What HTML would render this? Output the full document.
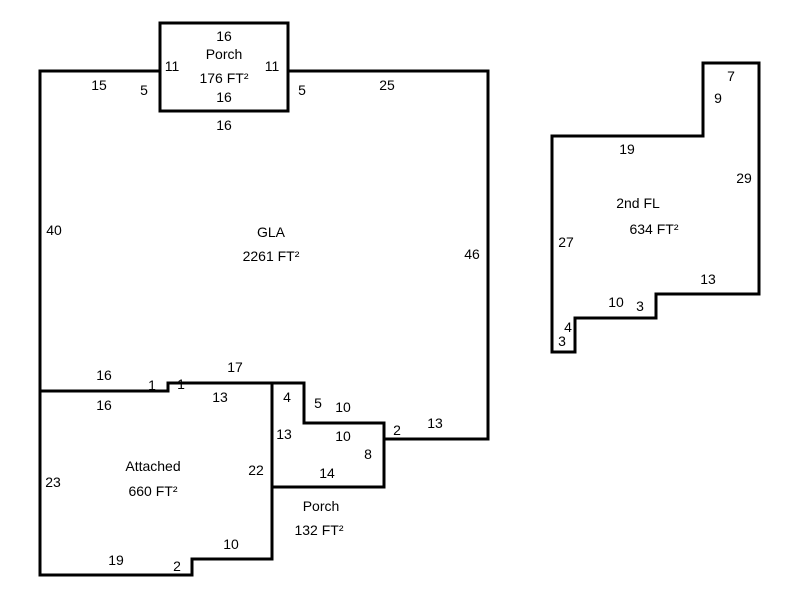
<!DOCTYPE html>
<html><head><style>body{margin:0;background:#fff}</style></head><body>
<svg width="800" height="600" xmlns="http://www.w3.org/2000/svg" font-family="Liberation Sans, Arial, sans-serif" font-size="14" fill="#000">
<g fill="none" stroke="#000" stroke-width="3" stroke-linecap="square">
<polyline points="160,71 40,71 40,575 192,575 192,559 272,559 272,383"/>
<polyline points="288,71 488,71 488,439 384,439 384,423 304,423 304,383 168,383 168,391 40,391"/>
<rect x="160" y="23" width="128" height="88"/>
<polyline points="272,487 384,487 384,423"/>
<polygon points="703,63 759,63 759,294 656,294 656,318 575,318 575,352 552,352 552,136 703,136"/>
</g>
<g text-anchor="middle">
<text x="224" y="41">16</text><text x="224" y="59">Porch</text><text x="224" y="83">176 FT²</text>
<text x="172" y="71">11</text><text x="272" y="71">11</text><text x="224" y="102">16</text><text x="224" y="130">16</text>
<text x="99" y="90">15</text><text x="144" y="95">5</text><text x="302" y="95">5</text><text x="387" y="90">25</text>
<text x="54" y="235">40</text><text x="472" y="259">46</text>
<text x="271" y="237">GLA</text><text x="271" y="261">2261 FT²</text>
<text x="104" y="380">16</text><text x="104" y="410">16</text><text x="152" y="390">1</text><text x="181" y="389">1</text>
<text x="235" y="372">17</text><text x="220" y="402">13</text><text x="287" y="402">4</text><text x="318" y="408">5</text>
<text x="343" y="412">10</text><text x="343" y="441">10</text><text x="284" y="439">13</text><text x="397" y="435">2</text>
<text x="435" y="428">13</text><text x="368" y="459">8</text><text x="327" y="478">14</text><text x="256" y="475">22</text>
<text x="153" y="471">Attached</text><text x="153" y="496">660 FT²</text><text x="53" y="487">23</text>
<text x="321" y="511">Porch</text><text x="319" y="535">132 FT²</text>
<text x="231" y="549">10</text><text x="116" y="565">19</text><text x="177" y="571">2</text>
<text x="731" y="81">7</text><text x="718" y="103">9</text><text x="627" y="154">19</text><text x="744" y="183">29</text>
<text x="638" y="208">2nd FL</text><text x="654" y="234">634 FT²</text><text x="566" y="247">27</text>
<text x="708" y="284">13</text><text x="616" y="307">10</text><text x="640" y="311">3</text><text x="568" y="332">4</text><text x="562" y="346">3</text>
</g>
</svg>
</body></html>
